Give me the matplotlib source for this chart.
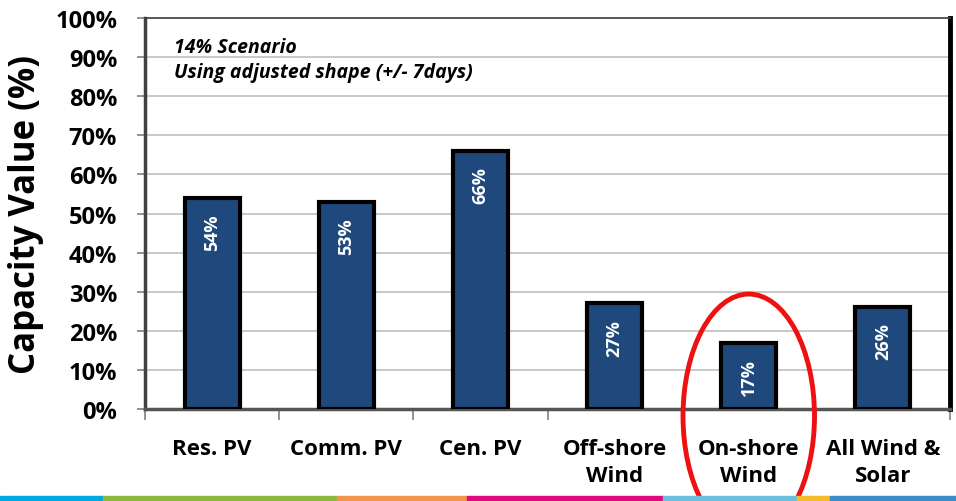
import matplotlib.pyplot as plt
from matplotlib.patches import Ellipse, Rectangle

categories = ['Res. PV', 'Comm. PV', 'Cen. PV', 'Off-shore\nWind', 'On-shore\nWind', 'All Wind &\nSolar']
values = [54, 53, 66, 27, 17, 26]
yticks = [0, 10, 20, 30, 40, 50, 60, 70, 80, 90, 100]
highlight = 4  # On-shore Wind

stripe_colors = ['#00A8E1', '#8CBA3F', '#F0954A', '#E0097E', '#6CC0DE', '#F5BC2A', '#3A8DC8']
stripe_edges = [0, 103, 337, 467, 663, 797, 830, 956]

plt.rcParams['font.family'] = ['Open Sans', 'DejaVu Sans']

fig = plt.figure(figsize=(9.56, 5.02), dpi=100)
ax = fig.add_axes([145 / 956, 92 / 502, 805 / 956, 391 / 502])

x = list(range(len(categories)))
ax.bar(x, values, width=0.41, color='#1F497D', edgecolor='black', linewidth=3, zorder=3)

for xi, v in zip(x, values):
    ax.annotate(f'{v}%', (xi, v), xytext=(0, -11), textcoords='offset points',
                rotation=90, ha='center', va='top', color='white',
                fontsize=13, fontweight='bold', zorder=4)

ax.set_xlim(-0.5, len(categories) - 0.5)
ax.set_ylim(0, 100)
ax.set_yticks(yticks)
ax.set_yticklabels([f'{t}%' for t in yticks], fontsize=17, fontweight='bold')
ax.yaxis.grid(True, color='#BFBFBF', linewidth=1.2, zorder=0)

ax.set_xticks([i - 0.5 for i in range(len(categories) + 1)], minor=False)
ax.set_xticklabels([])
ax.set_xticks(x, minor=True)
ax.set_xticklabels(categories, minor=True, fontsize=16, fontweight='bold')
ax.tick_params(axis='x', which='minor', length=0, pad=21)
ax.tick_params(axis='x', which='major', length=8, color='#808080', width=1.2)
ax.tick_params(axis='y', length=6, color='#808080', width=1.2, pad=14)
for lab in ax.get_xticklabels(minor=True):
    lab.set_linespacing(1.35)

ax.spines['left'].set_color('#404040')
ax.spines['left'].set_linewidth(2.5)
ax.spines['bottom'].set_color('#555555')
ax.spines['bottom'].set_linewidth(2.5)
ax.spines['top'].set_color('#404040')
ax.spines['top'].set_linewidth(1.2)
ax.spines['right'].set_color('black')
ax.spines['right'].set_linewidth(3.5)

ax.set_ylabel('Capacity Value (%)', fontsize=25, fontweight='bold', labelpad=8)

ax.text(0.036, 0.926, '14% Scenario', transform=ax.transAxes, fontsize=14,
        fontstyle='italic', fontweight='bold', va='center')
ax.text(0.036, 0.862, 'Using adjusted shape (+/- 7days)', transform=ax.transAxes,
        fontsize=14, fontstyle='italic', fontweight='bold', va='center')

ring = Ellipse((highlight, -1.8), width=0.98, height=62.4, fill=False,
               edgecolor='#EE1111', linewidth=3.5, clip_on=False, zorder=5)
ax.add_patch(ring)

for c, x0, x1 in zip(stripe_colors, stripe_edges[:-1], stripe_edges[1:]):
    fig.patches.append(Rectangle((x0 / 956, 0), (x1 - x0) / 956, 5 / 502,
                                 transform=fig.transFigure, color=c, zorder=6))

fig.savefig('out.png', dpi=100)
